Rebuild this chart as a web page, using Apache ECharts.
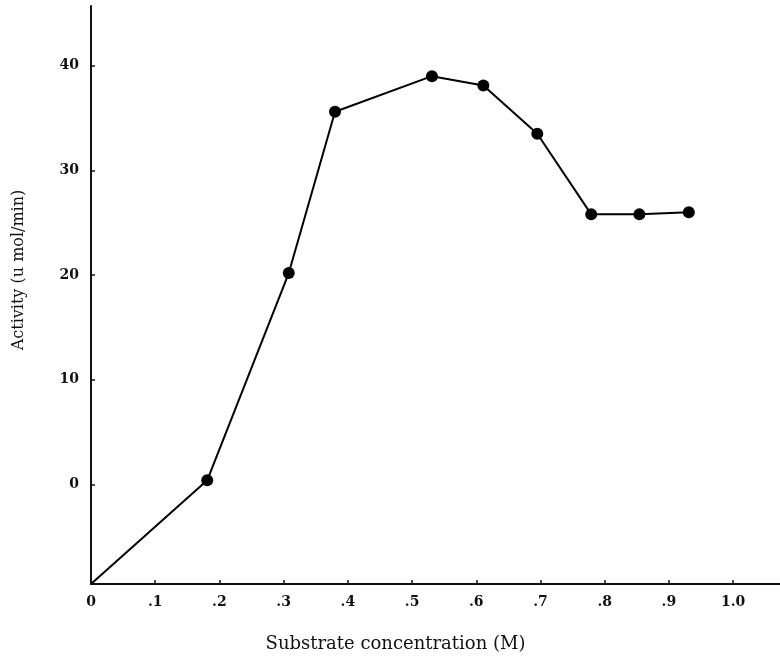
<!DOCTYPE html>
<html>
<head>
    <meta charset="utf-8">
    <script src="https://cdn.jsdelivr.net/npm/echarts@6/dist/echarts.min.js"></script>
    <style>
        html, body { margin: 0; padding: 0; background: #fff; }
        #main { width: 780px; height: 659px; }
    </style>
</head>
<body>
    <div id="main"></div>
    <script>
        // substrate concentration (M) and activity (u mol/min)
        var concentration = [0, 0.181, 0.308, 0.380, 0.531, 0.611, 0.695, 0.779, 0.854, 0.931];
        var activity = [-9.5, 0.4, 20.2, 35.6, 39.0, 38.1, 33.5, 25.8, 25.8, 26.0];
        var xTicks = [0, 0.1, 0.2, 0.3, 0.4, 0.5, 0.6, 0.7, 0.8, 0.9, 1.0];
        var xTickLabels = ['0', '.1', '.2', '.3', '.4', '.5', '.6', '.7', '.8', '.9', '1.0'];
        var yTicks = [0, 10, 20, 30, 40];

        var X_MAX = 1.073;
        var Y_MIN = -9.5;
        var Y_MAX = 45.7;

        var font = 'DejaVu Serif';

        var data = concentration.map(function (x, i) {
            var item = { value: [x, activity[i]] };
            // the curve starts from the origin, no dot there
            if (i === 0) {
                item.symbolSize = 0;
            }
            return item;
        });

        var option = {
            animation: false,
            backgroundColor: '#fff',
            grid: {
                left: 91,
                right: 0,
                top: 6,
                bottom: 75
            },
            xAxis: {
                type: 'value',
                min: 0,
                max: X_MAX,
                name: 'Substrate concentration (M)',
                nameLocation: 'middle',
                nameGap: 51,
                nameTextStyle: {
                    fontFamily: font,
                    fontSize: 18,
                    color: '#111',
                    padding: [0, 80, 0, 0]
                },
                axisLine: { onZero: false, lineStyle: { color: '#111', width: 2 } },
                axisTick: {
                    inside: true,
                    length: 4,
                    customValues: xTicks,
                    lineStyle: { color: '#111', width: 1.5 }
                },
                axisLabel: {
                    customValues: xTicks,
                    margin: 11,
                    fontFamily: font,
                    fontSize: 14,
                    fontWeight: 'bold',
                    color: '#111',
                    formatter: function (v) {
                        var idx = xTicks.findIndex(function (t) { return Math.abs(t - v) < 1e-6; });
                        return idx >= 0 ? xTickLabels[idx] : '';
                    }
                },
                splitLine: { show: false }
            },
            yAxis: {
                type: 'value',
                min: Y_MIN,
                max: Y_MAX,
                name: 'Activity (u mol/min)',
                nameLocation: 'middle',
                nameGap: 64,
                nameTextStyle: {
                    fontFamily: font,
                    fontSize: 16,
                    color: '#111',
                    padding: [0, 0, 0, 50]
                },
                axisLine: { show: true, onZero: false, lineStyle: { color: '#111', width: 2 } },
                axisTick: {
                    show: true,
                    inside: true,
                    length: 4,
                    customValues: yTicks,
                    lineStyle: { color: '#111', width: 1.5 }
                },
                axisLabel: {
                    customValues: yTicks,
                    margin: 12,
                    fontFamily: font,
                    fontSize: 14,
                    fontWeight: 'bold',
                    color: '#111'
                },
                splitLine: { show: false }
            },
            series: [{
                type: 'line',
                data: data,
                symbol: 'circle',
                symbolSize: 12,
                itemStyle: { color: '#000' },
                lineStyle: { color: '#000', width: 2 }
            }]
        };

        var chart = echarts.init(document.getElementById('main'));
        chart.setOption(option);
    </script>
</body>
</html>
